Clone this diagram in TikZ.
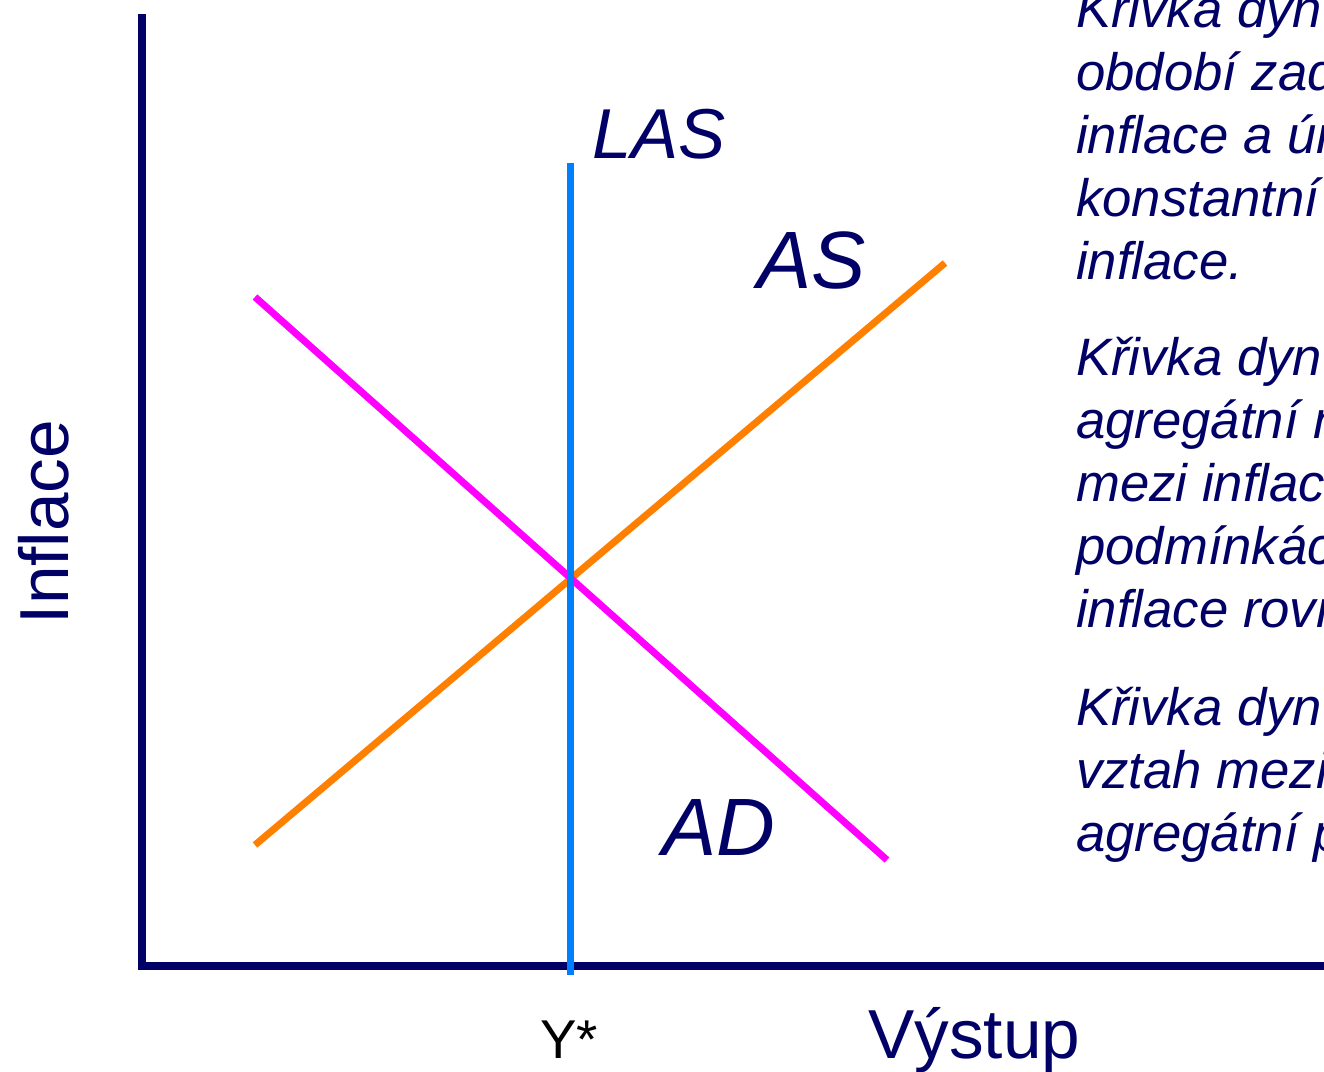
\documentclass[tikz,border=0pt]{standalone}
\usepackage{fontspec}
\setmainfont{Liberation Sans}
\definecolor{axisnavy}{RGB}{0,0,102}
\definecolor{lasblue}{RGB}{0,128,255}
\definecolor{asorange}{RGB}{255,128,0}
\definecolor{admagenta}{RGB}{255,0,255}
\tikzset{
    axisline/.style={draw=axisnavy, line width=6pt},
    curve/.style={line width=5.25pt},
    curvelabel/.style={anchor=base west, inner sep=0pt, text=axisnavy, font=\fontsize{61}{61}\selectfont\itshape},
    axislabel/.style={inner sep=0pt, text=axisnavy, font=\fontsize{52}{52}\selectfont},
    sidetext/.style={anchor=base west, inner sep=0pt, text=axisnavy, font=\fontsize{39.5}{47}\selectfont\itshape}
}
\begin{document}
\begin{tikzpicture}[x=0.75pt, y=-0.75pt]
    \useasboundingbox (0,0) rectangle (1324,1071);
    \clip (0,0) rectangle (1324,1071);
    \fill[white] (0,0) rectangle (1324,1071);
    % Axes
    \coordinate (top) at (142,14);
    \coordinate (right) at (1330,966);
    \draw[axisline, line join=miter] (top) |- (right);
    % Curves
    \coordinate (las-top) at (570,163);
    \coordinate (las-bot) at (570,975);
    \coordinate (as-lo) at (255,845);
    \coordinate (as-hi) at (945,263);
    \coordinate (ad-hi) at (255,297);
    \coordinate (ad-lo) at (887,860);
    \draw[curve, asorange] (as-lo) -- (as-hi);
    \draw[curve, admagenta] (ad-hi) -- (ad-lo);
    \draw[curve, lasblue] (las-top) -- (las-bot);
    % Curve labels
    \node[curvelabel, font=\fontsize{53}{53}\selectfont\itshape] (las) at (592,158) {LAS};
    \node[curvelabel] (as) at (757,288) {AS};
    \node[curvelabel] (ad) at (662,855) {AD};
    % Axis labels
    \node[axislabel, anchor=base, rotate=90] (inflace) at (68,522) {Inflace};
    \node[axislabel, anchor=base west] (vystup) at (868,1058) {Výstup};
    \node[axislabel, anchor=base west, text=black, font=\fontsize{41}{41}\selectfont] (ystar) at (540,1058) {Y*};
    % Side text
    \foreach \t [count=\i] in {Křivka dyn, období zad, inflace a úr, konstantní, inflace.}
        \node[sidetext] (a-\i) at (1076, 27+63*\i-63) {\t};
    \foreach \t [count=\i] in {Křivka dyn, agregátní n, mezi inflac, podmínkác, inflace rovn}
        \node[sidetext] (b-\i) at (1076, 375+63*\i-63) {\t};
    \foreach \t [count=\i] in {Křivka dyn, vztah mezi, agregátní p}
        \node[sidetext] (c-\i) at (1076, 725+63*\i-63) {\t};
\end{tikzpicture}
\end{document}
